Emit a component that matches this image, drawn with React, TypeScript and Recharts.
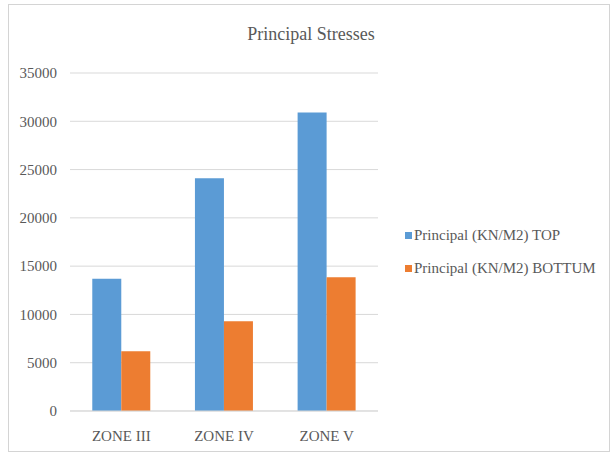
import React from 'react';
import { BarChart, Bar, XAxis, YAxis, CartesianGrid, Legend } from 'recharts';

const zones = ['ZONE III', 'ZONE IV', 'ZONE V'];
const topValues = [13700, 24100, 30900];
const bottomValues = [6200, 9300, 13850];
const yTicks = [0, 5000, 10000, 15000, 20000, 25000, 30000, 35000];
const seriesNames = ['Principal (KN/M2) TOP', 'Principal (KN/M2) BOTTUM'];
const seriesColors = ['#5B9BD5', '#ED7D31'];

const data = zones.map((z, i) => ({ zone: z, top: topValues[i], bottom: bottomValues[i] }));

const FONT = '"Liberation Serif", "Times New Roman", serif';
const TEXT = '#595959';

const LegendContent = () => (
  <div style={{ fontFamily: FONT, fontSize: 15, color: TEXT }}>
    {seriesNames.map((n, i) => (
      <div key={n} style={{ display: 'flex', alignItems: 'center', height: 33, whiteSpace: 'nowrap' }}>
        <span style={{ display: 'inline-block', width: 7, height: 7, background: seriesColors[i], marginRight: 2 }} />
        <span>{n}</span>
      </div>
    ))}
  </div>
);

export default function App() {
  return (
    <div style={{ position: 'fixed', left: 0, top: 0, width: 614, height: 457, background: '#fff' }}>
      <div style={{ position: 'absolute', left: 8, top: 4, width: 602, height: 448, border: '1px solid #d4d4d4', boxSizing: 'border-box' }} />
      <div style={{ position: 'absolute', left: 0, width: 622, top: 24, textAlign: 'center', fontFamily: FONT, fontSize: 18, color: TEXT }}>
        Principal Stresses
      </div>
      <div style={{ position: 'absolute', left: 0, top: 0 }}>
        <BarChart
          width={614}
          height={457}
          data={data}
          margin={{ top: 73, right: 236, bottom: 16, left: 0 }}
          barCategoryGap="21.7%"
          barGap={0}
        >
          <CartesianGrid vertical={false} stroke="#d9d9d9" strokeWidth={1} />
          <XAxis
            dataKey="zone"
            axisLine={{ stroke: '#d9d9d9' }}
            tickLine={false}
            height={30}
            tickMargin={13}
            tick={{ fill: TEXT, fontSize: 15, fontFamily: FONT }}
          />
          <YAxis
            width={70}
            domain={[0, 35000]}
            ticks={yTicks}
            axisLine={false}
            tickLine={false}
            tickMargin={7}
            tick={{ fill: TEXT, fontSize: 15, fontFamily: FONT }}
          />
          <Legend
            layout="vertical"
            align="center"
            verticalAlign="middle"
            wrapperStyle={{ left: 405, top: 219, width: 200 }}
            content={<LegendContent />}
          />
          <Bar dataKey="top" name={seriesNames[0]} fill={seriesColors[0]} isAnimationActive={false} />
          <Bar dataKey="bottom" name={seriesNames[1]} fill={seriesColors[1]} isAnimationActive={false} />
        </BarChart>
      </div>
    </div>
  );
}
